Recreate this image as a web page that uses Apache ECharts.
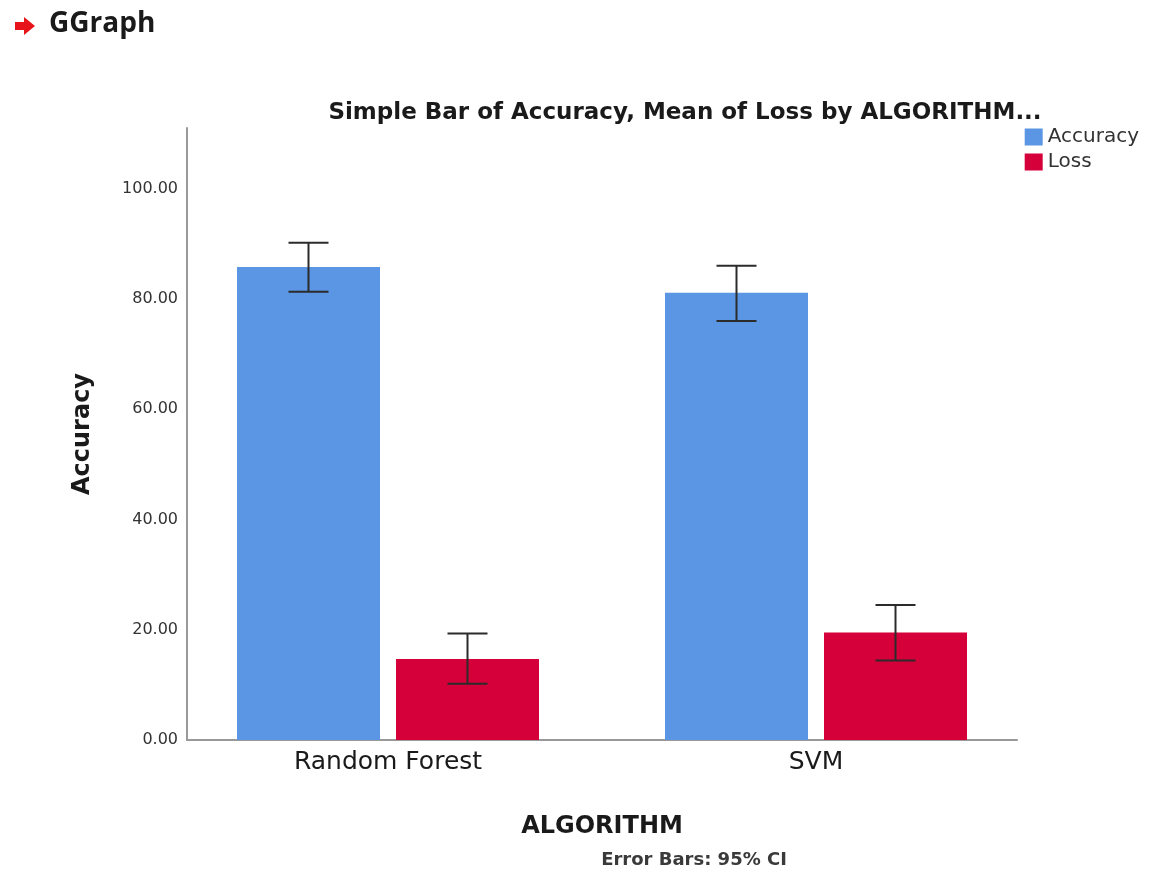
<!DOCTYPE html>
<html>
<head>
<meta charset="utf-8">
<script src="https://cdn.jsdelivr.net/npm/echarts@6/dist/echarts.min.js"></script>
<style>
  html, body { margin: 0; padding: 0; background: #fff; }
  #main { width: 1149px; height: 875px; }
</style>
</head>
<body>
<div id="main"></div>
<script>
var algorithms = ['Random Forest', 'SVM'];
var accuracy = [85.8, 81.1];
var accuracyLow = [81.3, 76.0];
var accuracyHigh = [90.2, 86.0];
var loss = [14.7, 19.5];
var lossLow = [10.2, 14.4];
var lossHigh = [19.3, 24.5];

var BAR_W = 143;
var BAR_GAP = 16;
var Y_MAX = 111;

// error bar: [categoryIndex, low, high]
function errData(low, high) {
  return low.map(function (v, i) { return [i, v, high[i]]; });
}

function errorBar(shift) {
  return function (params, api) {
    var i = api.value(0);
    var lo = api.coord([i, api.value(1)]);
    var hi = api.coord([i, api.value(2)]);
    var x = lo[0] + shift;
    var cap = 20;
    var style = { stroke: '#2b2b2b', lineWidth: 2 };
    return {
      type: 'group',
      children: [
        { type: 'line', shape: { x1: x, y1: hi[1], x2: x, y2: lo[1] }, style: style },
        { type: 'line', shape: { x1: x - cap, y1: hi[1], x2: x + cap, y2: hi[1] }, style: style },
        { type: 'line', shape: { x1: x - cap, y1: lo[1], x2: x + cap, y2: lo[1] }, style: style }
      ]
    };
  };
}

var chart = echarts.init(document.getElementById('main'));

var boldFont = { fontFamily: 'DejaVu Sans', fontWeight: 'bold', color: '#1a1a1a' };

var option = {
  backgroundColor: '#fff',
  animation: false,
  title: {
    text: 'Simple Bar of Accuracy, Mean of Loss by ALGORITHM...',
    left: 680,
    textAlign: 'center',
    top: 97,
    textStyle: Object.assign({ fontSize: 23 }, boldFont)
  },
  legend: {
    data: ['Accuracy', 'Loss'],
    orient: 'vertical',
    right: 5,
    top: 122,
    itemWidth: 18,
    itemHeight: 17,
    itemGap: 5,
    icon: 'rect',
    textStyle: { fontFamily: 'DejaVu Sans', fontSize: 20, color: '#333' }
  },
  // grid 0 holds the bars, grid 1 draws the visible axis frame
  grid: [
    { left: 174, right: 119, top: 128, bottom: 135 },
    { left: 187, right: 132, top: 128, bottom: 135 }
  ],
  xAxis: [
    {
      type: 'category',
      gridIndex: 0,
      data: algorithms,
      name: 'ALGORITHM',
      nameLocation: 'middle',
      nameGap: 75,
      nameTextStyle: Object.assign({ fontSize: 24 }, boldFont),
      axisLine: { show: false },
      axisTick: { show: false },
      axisLabel: { fontFamily: 'DejaVu Sans', fontSize: 25, color: '#1a1a1a', margin: 10 }
    },
    {
      type: 'value',
      gridIndex: 1,
      axisLine: { show: true, onZero: false, lineStyle: { color: '#999', width: 2 } },
      axisTick: { show: false },
      axisLabel: { show: false },
      splitLine: { show: false }
    }
  ],
  yAxis: [
    {
      type: 'value',
      gridIndex: 0,
      min: 0,
      max: Y_MAX,
      show: false
    },
    {
      type: 'value',
      gridIndex: 1,
      min: 0,
      max: Y_MAX,
      interval: 20,
      name: 'Accuracy',
      nameLocation: 'middle',
      nameGap: 92,
      nameTextStyle: Object.assign({ fontSize: 24 }, boldFont),
      axisLine: { show: true, lineStyle: { color: '#999', width: 2 } },
      axisTick: { show: false },
      splitLine: { show: false },
      axisLabel: {
        fontFamily: 'DejaVu Sans', fontSize: 16, color: '#333', margin: 9,
        showMaxLabel: false,
        formatter: function (v) { return v.toFixed(2); }
      }
    }
  ],
  series: [
    {
      name: 'Accuracy', type: 'bar', data: accuracy,
      barWidth: BAR_W, barGap: (BAR_GAP / BAR_W * 100) + '%',
      itemStyle: { color: '#5A96E3' }
    },
    {
      name: 'Loss', type: 'bar', data: loss,
      barWidth: BAR_W,
      itemStyle: { color: '#D5003A' }
    },
    {
      type: 'custom', renderItem: errorBar(-(BAR_W + BAR_GAP) / 2),
      data: errData(accuracyLow, accuracyHigh), z: 10,
      encode: { x: 0, y: [1, 2] }
    },
    {
      type: 'custom', renderItem: errorBar((BAR_W + BAR_GAP) / 2),
      data: errData(lossLow, lossHigh), z: 10,
      encode: { x: 0, y: [1, 2] }
    }
  ],
  graphic: [
    {
      type: 'polygon',
      shape: { points: [[15, 22], [24, 22], [24, 17], [35, 26], [24, 35], [24, 30], [15, 30]] },
      style: { fill: '#e8141b' }
    },
    {
      type: 'text', left: 49, top: 10,
      style: { text: 'GGraph', fontFamily: 'Open Sans', fontWeight: 'bold', fontSize: 28, fill: '#1a1a1a' }
    },
    {
      type: 'text', x: 694, y: 851,
      style: { text: 'Error Bars: 95% CI', fontFamily: 'DejaVu Sans', fontWeight: 'bold', fontSize: 18, fill: '#3a3a3a', textAlign: 'center' }
    }
  ]
};

chart.setOption(option);
</script>
</body>
</html>
